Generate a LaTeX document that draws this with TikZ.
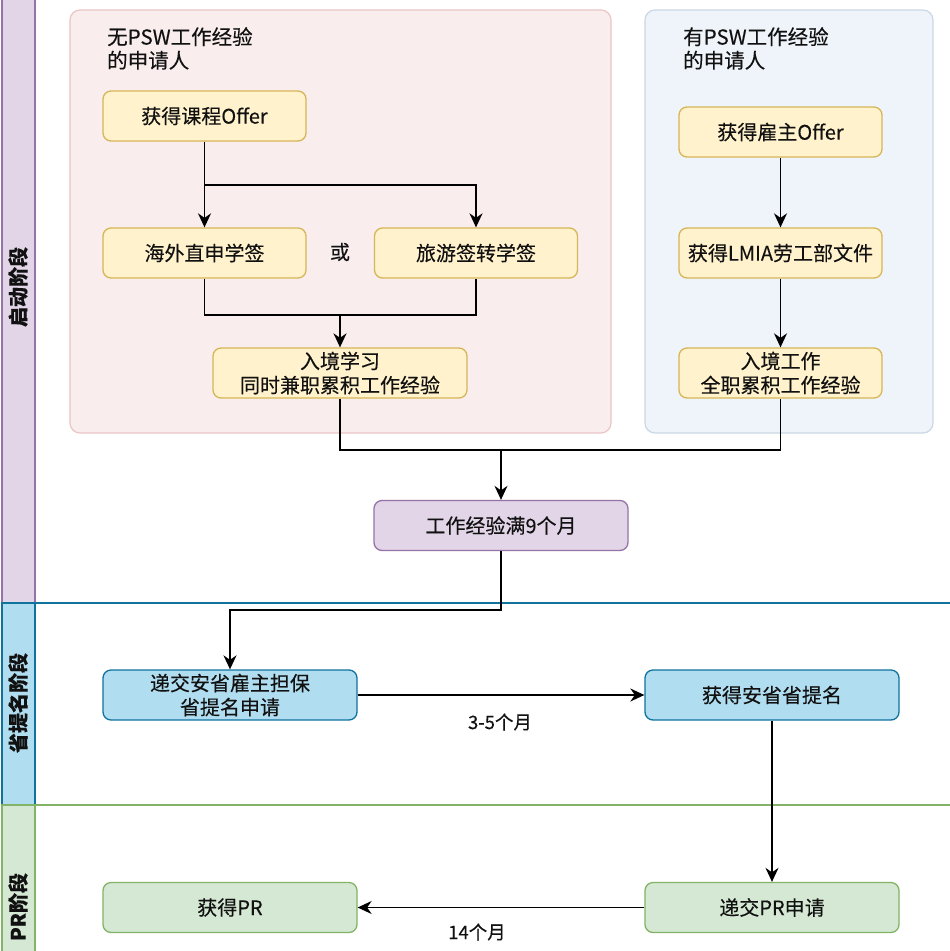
\documentclass[tikz,border=0pt]{standalone}
\usepackage{fontspec}
\setmainfont{Noto Sans CJK SC}[FakeBold=0.25]
\usetikzlibrary{arrows.meta}
\definecolor{purpfill}{HTML}{E1D5E7}
\definecolor{purpline}{HTML}{9673A6}
\definecolor{bluefill}{HTML}{B1DDF0}
\definecolor{blueline}{HTML}{10739E}
\definecolor{greenfill}{HTML}{D5E8D4}
\definecolor{greenline}{HTML}{82B366}
\definecolor{yelfill}{HTML}{FFF2CC}
\definecolor{yelline}{HTML}{D6B656}
\definecolor{pinkbg}{HTML}{F9EDED}
\definecolor{pinkline}{HTML}{EBC6C6}
\definecolor{bluebg}{HTML}{EFF4FA}
\definecolor{bluebgline}{HTML}{CBD7E5}
\definecolor{txt}{HTML}{111111}
\tikzset{
  box/.style={rectangle, rounded corners=8pt, line width=1.3pt, align=center,
    minimum height=50pt, text=txt, font=\fontsize{20}{24}\selectfont, inner sep=0pt},
  ybox/.style={box, draw=yelline, fill=yelfill, minimum width=203pt},
  pbox/.style={box, draw=purpline, fill=purpfill, minimum width=254pt},
  bbox/.style={box, draw=blueline, fill=bluefill, minimum width=254pt},
  gbox/.style={box, draw=greenline, fill=greenfill, minimum width=254pt},
  conn/.style={line width=1.6pt, black},
  arr/.style={conn, -{Stealth[length=14pt,width=13pt,inset=4.5pt]}},
  lanelbl/.style={rotate=90, font=\bfseries\fontsize{20}{22}\selectfont, text=txt},
  lbl/.style={font=\fontsize{18.5}{22}\selectfont, text=txt},
  ttl/.style={align=left, anchor=north west, inner sep=0pt, text=txt, font=\fontsize{20.5}{23.5}\selectfont}
}
\begin{document}
\begin{tikzpicture}[x=1pt,y=-1pt]
\useasboundingbox (0,0) rectangle (950,951);
\fill[white] (0,0) rectangle (950,951);
\begin{scope}
\clip (0,0) rectangle (950,951);
% lanes
\draw[purpline, fill=purpfill, line width=1.3pt] (2,-40) rectangle (35,603);
\draw[blueline, fill=bluefill, line width=1.3pt] (2,603) rectangle (35,805);
\draw[greenline, fill=greenfill, line width=1.3pt] (2,805) rectangle (35,1010);
\draw[blueline, line width=1.3pt] (2,603) -- (950,603);
\draw[greenline, line width=1.3pt] (2,805) -- (950,805);
\node[lanelbl] (lane1) at (18,287) {启动阶段};
\node[lanelbl] (lane2) at (18,703) {省提名阶段};
\node[lanelbl] (lane3) at (18,907) {PR阶段};
\end{scope}
% containers
\draw[pinkline, fill=pinkbg, line width=1.2pt, rounded corners=10pt] (70,10) rectangle (611,433);
\draw[bluebgline, fill=bluebg, line width=1.2pt, rounded corners=10pt] (645,10) rectangle (933,433);
\node[ttl] (t1) at (107,27) {无PSW工作经验\\的申请人};
\node[ttl] (t2) at (683,27) {有PSW工作经验\\的申请人};
% nodes
\node[ybox] (offer1) at (204.5,116) {获得课程Offer};
\node[ybox] (zhishen) at (204.5,253) {海外直申学签};
\node[ybox] (lvyou) at (476,253) {旅游签转学签};
\node[lbl, font=\fontsize{20}{23}\selectfont] (huo) at (340,252) {或};
\node[ybox, minimum width=254pt] (ruxue) at (340,373) {入境学习\\同时兼职累积工作经验};
\node[ybox] (offer2) at (780.5,132) {获得雇主Offer};
\node[ybox] (lmia) at (780.5,253) {获得LMIA劳工部文件};
\node[ybox] (rujing) at (780.5,373) {入境工作\\全职累积工作经验};
\node[pbox] (work9) at (501,525.5) {工作经验满9个月};
\node[bbox] (dijiao) at (230,695) {递交安省雇主担保\\省提名申请};
\node[bbox] (huode) at (772,695) {获得安省省提名};
\node[gbox] (getpr) at (230,907.5) {获得PR};
\node[gbox] (subpr) at (772,907.5) {递交PR申请};
% connectors
\coordinate (b1) at (204.5,185);
\coordinate (m1) at (340,315);
\coordinate (m2) at (501,450);
\coordinate (m3) at (501,610);
\draw[arr] (offer1.south) -- (zhishen.north);
\draw[arr] (b1) -| (lvyou.north);
\draw[conn] (zhishen.south) |- (m1) -| (lvyou.south);
\draw[arr] (m1) -- (ruxue.north);
\draw[arr] (offer2.south) -- (lmia.north);
\draw[arr] (lmia.south) -- (rujing.north);
\draw[conn] (ruxue.south) |- (m2) -| (rujing.south);
\draw[arr] (m2) -- (work9.north);
\draw[arr] (work9.south) -- (m3) -| (dijiao.north);
\draw[arr] (dijiao.east) -- (huode.west);
\node[lbl] (l35) at (500,722) {3-5个月};
\draw[arr] (huode.south) -- (subpr.north);
\draw[arr] (subpr.west) -- (getpr.east);
\node[lbl] (l14) at (477,932) {14个月};
\end{tikzpicture}
\end{document}
